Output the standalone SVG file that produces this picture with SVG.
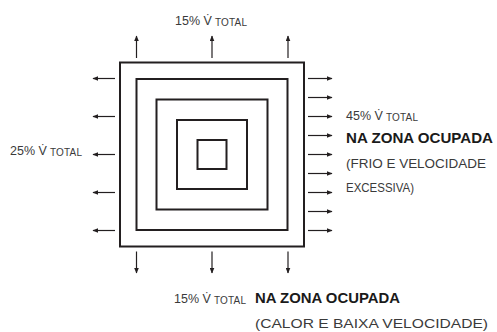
<svg xmlns="http://www.w3.org/2000/svg" width="497" height="332" viewBox="0 0 497 332">
<defs>
<style>
.sq{fill:none;stroke:#231f20;stroke-width:2}
.ar{stroke:#231f20;stroke-width:1.2;fill:none;marker-end:url(#ah)}
.t{font-family:"Liberation Sans",Arial,sans-serif;font-size:12.5px;fill:#3a3a3a}
.g{font-family:"Liberation Sans",Arial,sans-serif;font-size:13.5px;fill:#3a3a3a}
.s{font-family:"Liberation Sans",Arial,sans-serif;font-size:10px;fill:#3a3a3a}
.b{font-family:"Liberation Sans",Arial,sans-serif;font-size:14px;font-weight:bold;fill:#1a1a1a}
</style>
<marker id="ah" viewBox="0 0 10 10" refX="9" refY="5" markerWidth="6" markerHeight="5" markerUnits="userSpaceOnUse" orient="auto" preserveAspectRatio="none"><path d="M0,0 L10,5 L0,10 z" fill="#231f20"/></marker>
</defs>
<rect width="497" height="332" fill="#fff"/>
<g id="squares">
<rect class="sq" x="120" y="62.5" width="184" height="184"/>
<rect class="sq" x="136.5" y="79" width="151" height="151"/>
<rect class="sq" x="156.5" y="99.5" width="111" height="110"/>
<rect class="sq" x="177" y="120" width="70" height="69"/>
<rect class="sq" x="197.5" y="140" width="29" height="29"/>
</g>
<g id="connectors">
<line class="ar" x1="136.5" y1="58" x2="136.5" y2="36"/>
<line class="ar" x1="212" y1="58" x2="212" y2="36"/>
<line class="ar" x1="288" y1="58" x2="288" y2="36"/>
<line class="ar" x1="136.5" y1="251.5" x2="136.5" y2="273"/>
<line class="ar" x1="212" y1="251.5" x2="212" y2="273"/>
<line class="ar" x1="288" y1="251.5" x2="288" y2="273"/>
<line class="ar" x1="115" y1="78.5" x2="93" y2="78.5"/>
<line class="ar" x1="115" y1="116.5" x2="93" y2="116.5"/>
<line class="ar" x1="115" y1="154.5" x2="93" y2="154.5"/>
<line class="ar" x1="115" y1="192.5" x2="93" y2="192.5"/>
<line class="ar" x1="115" y1="230.5" x2="93" y2="230.5"/>
<line class="ar" x1="308" y1="78.5" x2="332" y2="78.5"/>
<line class="ar" x1="308" y1="97.5" x2="332" y2="97.5"/>
<line class="ar" x1="308" y1="116.5" x2="332" y2="116.5"/>
<line class="ar" x1="308" y1="135.5" x2="332" y2="135.5"/>
<line class="ar" x1="308" y1="154.5" x2="332" y2="154.5"/>
<line class="ar" x1="308" y1="173.5" x2="332" y2="173.5"/>
<line class="ar" x1="308" y1="192.5" x2="332" y2="192.5"/>
<line class="ar" x1="308" y1="211.5" x2="332" y2="211.5"/>
<line class="ar" x1="308" y1="230.5" x2="332" y2="230.5"/>
</g>
<g id="label-top">
<text class="t" x="175" y="25">15% V̇</text>
<text class="s" x="215" y="26" textLength="32" lengthAdjust="spacing">TOTAL</text>
</g>
<g id="label-left">
<text class="t" x="10" y="155">25% V̇</text>
<text class="s" x="50" y="156" textLength="32" lengthAdjust="spacing">TOTAL</text>
</g>
<g id="label-right">
<text class="t" x="346" y="120">45% V̇</text>
<text class="s" x="386" y="121" textLength="32" lengthAdjust="spacing">TOTAL</text>
<text class="b" x="346" y="143" textLength="147" lengthAdjust="spacingAndGlyphs">NA ZONA OCUPADA</text>
<text class="g" x="346" y="168" textLength="140" lengthAdjust="spacingAndGlyphs">(FRIO E VELOCIDADE</text>
<text class="g" x="346" y="192" textLength="68" lengthAdjust="spacingAndGlyphs">EXCESSIVA)</text>
</g>
<g id="label-bottom">
<text class="t" x="174" y="303">15% V̇</text>
<text class="s" x="214" y="304" textLength="32" lengthAdjust="spacing">TOTAL</text>
<text class="b" x="255" y="303" textLength="145" lengthAdjust="spacingAndGlyphs">NA ZONA OCUPADA</text>
<text class="g" x="255" y="328" textLength="233" lengthAdjust="spacingAndGlyphs">(CALOR E BAIXA VELOCIDADE)</text>
</g>
</svg>
